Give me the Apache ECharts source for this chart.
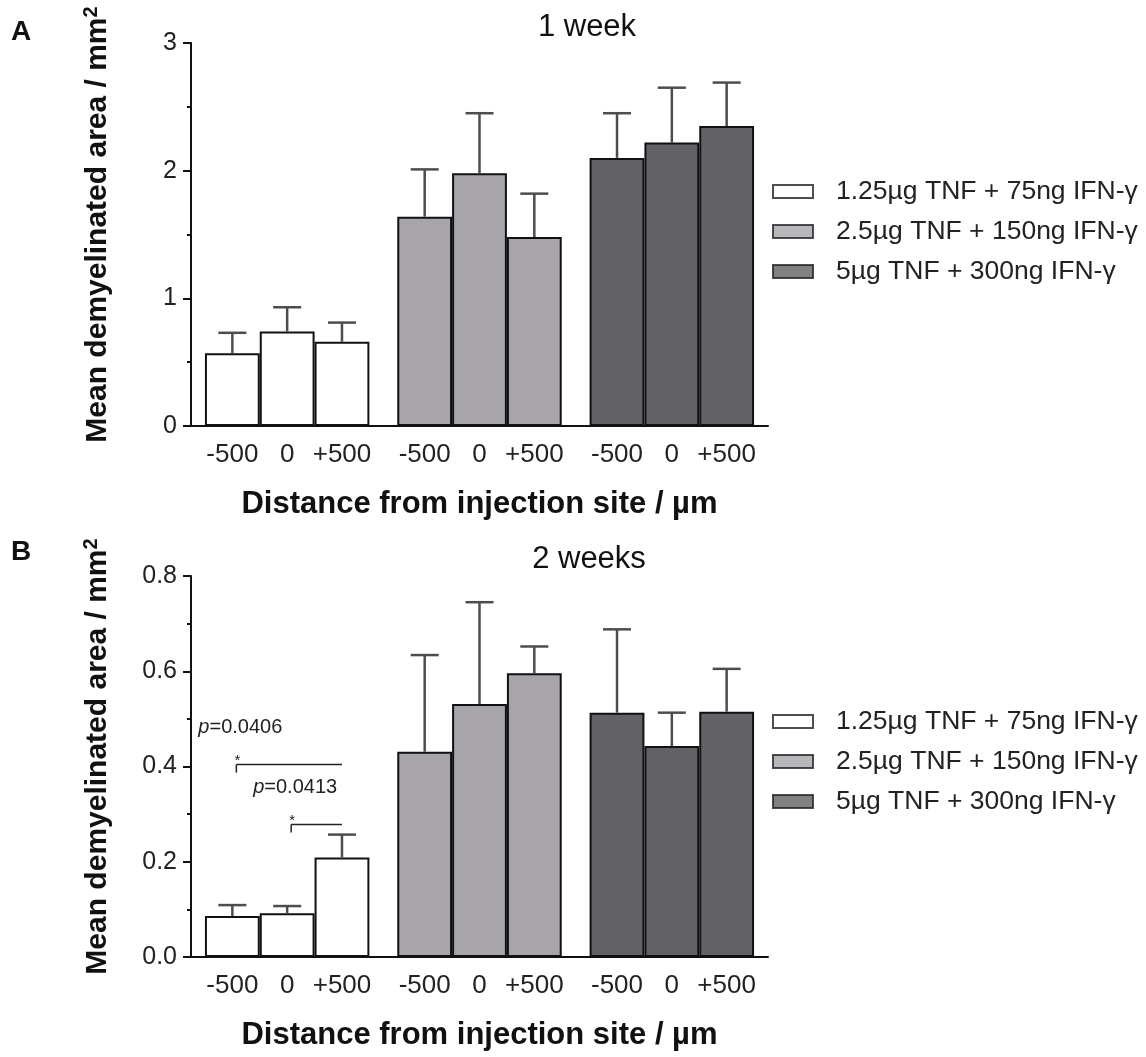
<!DOCTYPE html>
<html>
<head>
<meta charset="utf-8">
<script src="https://cdn.jsdelivr.net/npm/echarts@6.0.0/dist/echarts.min.js"></script>
<style>
html,body{margin:0;padding:0;background:#fff;}
#chart{width:1146px;height:1057px;}
</style>
</head>
<body>
<div id="chart"></div>
<script>
// ---- data ----
const distances = ['-500', '0', '+500'];
const doses = ['1.25µg TNF + 75ng IFN-γ', '2.5µg TNF + 150ng IFN-γ', '5µg TNF + 300ng IFN-γ'];
const panelTitles = ['1 week', '2 weeks'];
const panelLetters = ['A', 'B'];

// 1 week: mean and SEM for each dose at -500, 0, +500 µm
const week1Low = [0.57, 0.74, 0.66];
const week1LowSem = [0.16, 0.19, 0.15];
const week1Mid = [1.64, 1.98, 1.48];
const week1MidSem = [0.37, 0.47, 0.34];
const week1High = [2.10, 2.22, 2.35];
const week1HighSem = [0.35, 0.43, 0.34];

// 2 weeks
const week2Low = [0.086, 0.092, 0.209];
const week2LowSem = [0.023, 0.015, 0.048];
const week2Mid = [0.431, 0.531, 0.596];
const week2MidSem = [0.203, 0.214, 0.056];
const week2High = [0.513, 0.443, 0.515];
const week2HighSem = [0.175, 0.070, 0.090];

// significance (2 weeks, lowest dose): bar indices compared, bracket height, p value
const sigFromBar = [0, 1];
const sigToBar = [2, 2];
const sigHeight = [0.404, 0.278];
const sigP = ['0.0406', '0.0413'];

// ---- style ----
const doseColors = ['#ffffff', '#a7a5aa', '#626165'];
const FONT = 'Liberation Sans, Arial, sans-serif';
const GAP = 0.145;

const chart = echarts.init(document.getElementById('chart'));

const means = [[week1Low, week1Mid, week1High], [week2Low, week2Mid, week2High]];
const sems = [[week1LowSem, week1MidSem, week1HighSem], [week2LowSem, week2MidSem, week2HighSem]];

const grids = [
  {left: 191, top: 43, width: 577, height: 383},
  {left: 191, top: 576, width: 577, height: 381}
];

const xAxes = [0, 1].map(i => ({
  type: 'category', gridIndex: i, data: doses,
  axisLine: {lineStyle: {color: '#111', width: 2}},
  axisTick: {show: false}, axisLabel: {show: false},
  name: 'Distance from injection site / µm', nameLocation: 'middle', nameGap: 63,
  nameTextStyle: {fontFamily: FONT, fontSize: 31, fontWeight: 'bold', color: '#111'}
}));

const yAxes = [
  {min: 0, max: 3, interval: 1, fmt: v => String(v)},
  {min: 0, max: 0.8, interval: 0.2, fmt: v => v.toFixed(1)}
].map((a, i) => ({
  type: 'value', gridIndex: i, min: a.min, max: a.max, interval: a.interval,
  axisLine: {show: true, lineStyle: {color: '#111', width: 2}},
  axisTick: {show: true, length: 8, lineStyle: {color: '#111', width: 2}},
  minorTick: {show: true, splitNumber: 2, length: 4, lineStyle: {color: '#111', width: 2}},
  splitLine: {show: false},
  axisLabel: {formatter: a.fmt, fontFamily: FONT, fontSize: 25, color: '#222', margin: 14},
  name: 'Mean demyelinated area / mm{sup|2}', nameLocation: 'middle', nameGap: 76, nameRotate: 90,
  nameTextStyle: {
    fontFamily: FONT, fontSize: 30, fontWeight: 'bold', color: '#111', lineHeight: 34,
    padding: [0, 0, 0, 20],
    rich: {sup: {fontFamily: FONT, fontSize: 20, fontWeight: 'bold', color: '#111', verticalAlign: 'top', lineHeight: 34}}
  }
}));

const series = [];
[0, 1].forEach(p => {
  distances.forEach((dist, d) => {
    series.push({
      type: 'bar', name: dist, xAxisIndex: p, yAxisIndex: p,
      barGap: '0%', barCategoryGap: (GAP * 100) + '%',
      silent: true,
      data: [0, 1, 2].map(g => ({value: means[p][g][d], itemStyle: {color: doseColors[g]}})),
      itemStyle: {borderColor: '#111', borderWidth: 2},
      label: {show: true, position: 'bottom', distance: 16, formatter: dist,
        fontFamily: FONT, fontSize: 26, color: '#222'}
    });
  });
  // error bars (upper SEM)
  const errData = [];
  [0, 1, 2].forEach(g => distances.forEach((dist, d) => {
    errData.push([g, d, means[p][g][d], means[p][g][d] + sems[p][g][d]]);
  }));
  series.push({
    type: 'custom', xAxisIndex: p, yAxisIndex: p, silent: true, z: 5,
    encode: {x: 0, y: 3},
    data: errData,
    renderItem: (params, api) => {
      const g = api.value(0), d = api.value(1);
      const p0 = api.coord([g, api.value(2)]);
      const p1 = api.coord([g, api.value(3)]);
      const cw = api.size([1, 0])[0];
      const bw = cw * (1 - GAP) / 3;
      const x = p0[0] + (d - 1) * bw;
      const st = {stroke: '#4d4d4d', lineWidth: 2.5};
      return {type: 'group', children: [
        {type: 'line', shape: {x1: x, y1: p0[1], x2: x, y2: p1[1]}, style: st},
        {type: 'line', shape: {x1: x - 14, y1: p1[1], x2: x + 14, y2: p1[1]}, style: st}
      ]};
    }
  });
});

// significance brackets on 2-week panel
series.push({
  type: 'custom', xAxisIndex: 1, yAxisIndex: 1, silent: true, z: 6,
  encode: {x: 0, y: 1},
  data: sigHeight.map((h, i) => [0, h, i]),
  renderItem: (params, api) => {
    const i = api.value(2);
    const c = api.coord([0, sigHeight[i]]);
    const cw = api.size([1, 0])[0];
    const bw = cw * (1 - GAP) / 3;
    const x1 = c[0] + (sigFromBar[i] - 1) * bw + 4;
    const x2 = c[0] + (sigToBar[i] - 1) * bw;
    const y = c[1];
    const st = {stroke: '#222', lineWidth: 1.5};
    return {type: 'group', children: [
      {type: 'line', shape: {x1: x1, y1: y, x2: x2, y2: y}, style: st},
      {type: 'line', shape: {x1: x1, y1: y, x2: x1, y2: y + 8}, style: st},
      {type: 'text', style: {text: '*', x: x1 + 1, y: y - 4, fontFamily: FONT, fontSize: 15, fill: '#222', align: 'center', verticalAlign: 'middle'}},
      {type: 'text', style: {
        text: '{i|p}=' + sigP[i], x: x1 + 4, y: y - 37, align: 'center', verticalAlign: 'middle',
        fontFamily: FONT, fontSize: 20, fill: '#222',
        rich: {i: {fontFamily: FONT, fontSize: 20, fontStyle: 'italic', fill: '#222'}}
      }}
    ]};
  }
});

// legend carriers (no data)
doses.forEach((name, g) => {
  series.push({type: 'scatter', name: name, xAxisIndex: 0, yAxisIndex: 0, data: [],
    itemStyle: {color: doseColors[g], borderColor: '#222', borderWidth: 1.5}});
});

const legends = [178, 708].map(top => ({
  orient: 'vertical', left: 772, top: top, padding: 0,
  data: doses, icon: 'rect', itemWidth: 40, itemHeight: 13, itemGap: 13,
  selectedMode: false,
  textStyle: {fontFamily: FONT, fontSize: 26.5, color: '#222', padding: [0, 0, 0, 18]}
}));

const titles = [
  {text: panelLetters[0], left: 11, top: 18, padding: 0, textStyle: {fontFamily: FONT, fontSize: 28, fontWeight: 'bold', color: '#111'}},
  {text: panelTitles[0], left: 587, top: 12, padding: 0, textAlign: 'center', textStyle: {fontFamily: FONT, fontSize: 31, fontWeight: 'normal', color: '#111'}},
  {text: panelLetters[1], left: 11, top: 538, padding: 0, textStyle: {fontFamily: FONT, fontSize: 28, fontWeight: 'bold', color: '#111'}},
  {text: panelTitles[1], left: 589, top: 544, padding: 0, textAlign: 'center', textStyle: {fontFamily: FONT, fontSize: 31, fontWeight: 'normal', color: '#111'}}
];

chart.setOption({
  animation: false,
  backgroundColor: '#fff',
  title: titles,
  legend: legends,
  grid: grids,
  xAxis: xAxes,
  yAxis: yAxes,
  series: series
});
</script>
</body>
</html>
